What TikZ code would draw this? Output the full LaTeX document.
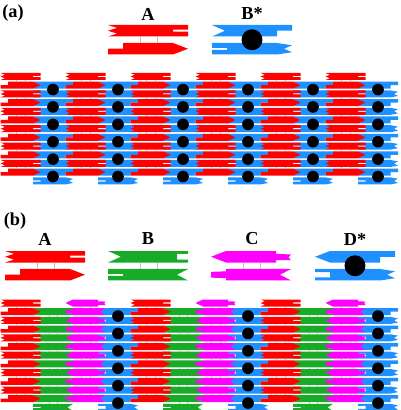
\documentclass[tikz,border=0pt]{standalone}
\usepackage{fontspec}
\setmainfont{Liberation Serif}
\usepackage[svgnames]{xcolor}
\definecolor{tgreen}{RGB}{25,170,40}

\newcommand{\Lzig}[1]{-- (0,#1+1) -- (0.9,#1+0.75) -- (0,#1+0.5) -- (0.9,#1+0.25) -- (0,#1)}
\newcommand{\Lstep}[1]{-- (0,#1+1) -- (0,#1+0.5) -- (1.5,#1+0.5)}
\newcommand{\Lnotch}[1]{-- (0,#1+1) -- (1.3,#1+0.5) -- (0,#1)}
\newcommand{\Lfork}[1]{-- (0,#1+1) -- (0,#1+0.6) -- (1.5,#1+0.6) -- (1.5,#1+0.42) -- (0,#1+0.42) -- (0,#1)}
\newcommand{\Larrow}[1]{-- (0,#1+0.5)}
\newcommand{\Ltab}[1]{-- (1.5,#1+0.8) -- (0,#1+0.75) -- (0,#1+0.25) -- (1.5,#1+0.2)}
\newcommand{\Lslot}[1]{-- (0,#1+1) -- (0,#1+0.72) -- (1.5,#1+0.72) -- (1.5,#1+0.28) -- (0,#1+0.28) -- (0,#1)}
\newcommand{\Rfork}[1]{-- (8,#1) -- (8,#1+0.4) -- (6.5,#1+0.4) -- (6.5,#1+0.58) -- (8,#1+0.58) -- (8,#1+1)}
\newcommand{\Rarrow}[1]{-- (8,#1+0.5)}
\newcommand{\Rstep}[1]{-- (8,#1) -- (8,#1+0.5) -- (6.5,#1+0.5)}
\newcommand{\Rzig}[1]{-- (8,#1+0.2) -- (7.2,#1+0.5) -- (8,#1+0.8)}
\newcommand{\Rslot}[1]{-- (8,#1) -- (8,#1+0.25) -- (6.9,#1+0.25) -- (6.9,#1+0.75) -- (8,#1+0.75) -- (8,#1+1)}
\newcommand{\Rtab}[1]{-- (6.5,#1+0.25) -- (8,#1+0.3) -- (7.75,#1+0.55) -- (8,#1+0.8) -- (6.5,#1+0.8)}
\newcommand{\Rswal}[1]{-- (8,#1) -- (6.9,#1+0.5) -- (8,#1+1)}

\newcommand{\helix}[4]{\fill[#1] (1.5,#2) -- (6.5,#2) #4{#2} -- (6.5,#2+1) -- (1.5,#2+1) #3{#2} -- cycle;}
\newcommand{\dxtile}[5]{\helix{#1}{0}{#2}{#3}\helix{#1}{\rp}{#4}{#5}%
  \draw[xover] (3.2,1) -- (3.2,\rp) (4.9,1) -- (4.9,\rp);}

\begin{document}
\begin{tikzpicture}[x=0.25mm, y=-0.25mm,
    rp/.store in=\rp, rp=1.34, dotsize/.store in=\dotsize, dotsize=8pt,
    xover/.style={gray!50, line width=0.3pt},
    dot/.style={circle, fill=black, inner sep=0pt, minimum size=\dotsize},
    lbl/.style={font=\fontsize{13}{15}\selectfont\bfseries},
    legend/.style={xscale=10, yscale=11.5, rp=1.565, dotsize=14.9pt},
    lattice/.style={xscale=5, yscale=7, rp=1.243, dotsize=8.3pt},
    tileA/.pic={\dxtile{Red}{\Lzig}{\Rfork}{\Lstep}{\Rarrow}},
    tileB/.pic={\dxtile{DodgerBlue}{\Lnotch}{\Rstep}{\Lfork}{\Rzig}\node[dot] (dot) at (4,{(\rp+1)/2}) {};},
    tileG/.pic={\dxtile{tgreen}{\Lnotch}{\Rslot}{\Lfork}{\Rswal}},
    tileM/.pic={\dxtile{Fuchsia}{\Larrow}{\Rtab}{\Ltab}{\Rswal}},
    tileD/.pic={\dxtile{DodgerBlue}{\Larrow}{\Rstep}{\Lslot}{\Rzig}\node[dot] (dot) at (4,{(\rp+1)/2}) {};}]
    \useasboundingbox (0,0) rectangle (400,410);

    \node[lbl] (pa) at (13,13.5) {(a)};
    \node[lbl] (aA) at (148,14) {A};
    \node[lbl] (aB) at (252,13.5) {B*};
    \pic[legend] at (108,25) {tileA};
    \pic[legend] at (212,25) {tileB};
    \foreach \c in {1,3,...,11} \foreach \r in {0,...,5} \pic[lattice] at ({0.5+32.5*\c},{81.7+17.4*\r}) {tileB};
    \foreach \c in {0,2,...,10} \foreach \r in {0,...,5} \pic[lattice] at ({0.5+32.5*\c},{73+17.4*\r}) {tileA};

    \node[lbl] (pb) at (15,221.5) {(b)};
    \node[lbl] (bA) at (45,239) {A};
    \node[lbl] (bB) at (148,239) {B};
    \node[lbl] (bC) at (252,239) {C};
    \node[lbl] (bD) at (355,239) {D*};
    \pic[legend] at (5,251) {tileA};
    \pic[legend] at (108,251) {tileG};
    \pic[legend] at (211,251) {tileM};
    \pic[legend] at (315,251) {tileD};
    \foreach \c in {1,5,9} \foreach \r in {0,...,5} \pic[lattice] at ({0.5+32.5*\c},{308.2+17.4*\r}) {tileG};
    \foreach \c in {3,7,11} \foreach \r in {0,...,5} \pic[lattice] at ({0.5+32.5*\c},{308.2+17.4*\r}) {tileD};
    \foreach \c in {0,4,8} \foreach \r in {0,...,5} \pic[lattice] at ({0.5+32.5*\c},{299.5+17.4*\r}) {tileA};
    \foreach \c in {2,6,10} \foreach \r in {0,...,5} \pic[lattice] at ({0.5+32.5*\c},{299.5+17.4*\r}) {tileM};
\end{tikzpicture}
\end{document}
